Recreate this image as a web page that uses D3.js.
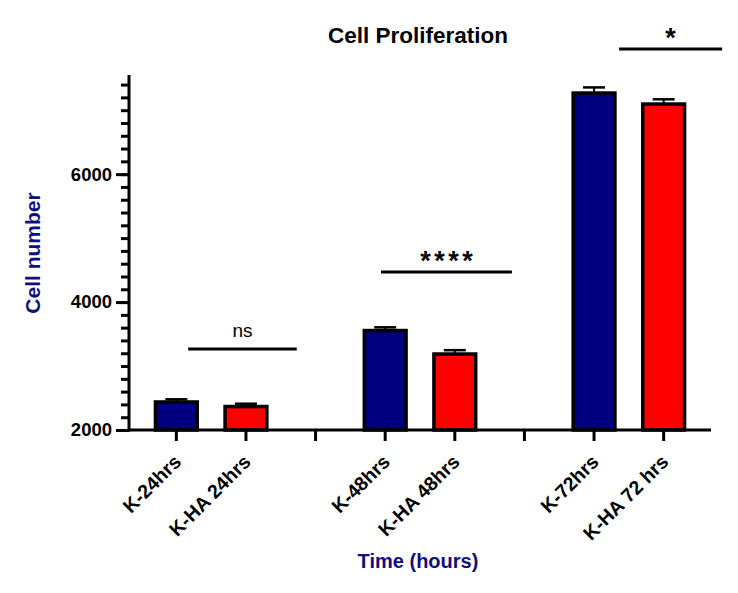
<!DOCTYPE html>
<html><head><meta charset="utf-8">
<script src="https://cdn.jsdelivr.net/npm/d3@7"></script>
<style>body{margin:0;background:#fff;} text{font-family:"Liberation Sans",Arial,sans-serif;}</style>
</head><body>
<svg id="chart" width="738" height="593"></svg>
<script>
const categories = ["K-24hrs","K-HA 24hrs","K-48hrs","K-HA 48hrs","K-72hrs","K-HA 72 hrs"];
const slots = ["K-24hrs","K-HA 24hrs","gap1","K-48hrs","K-HA 48hrs","gap2","K-72hrs","K-HA 72 hrs"];
const means = [2438, 2367, 3555, 3188, 7268, 7096];
const errors = [42, 44, 50, 60, 88, 74];
const colors = ["#000080","#ff0000","#000080","#ff0000","#000080","#ff0000"];
const yTicks = [2000, 4000, 6000];
const annLabels = ["ns","****","*"];
const annStart = [0.17, 2.94, 6.36];
const annEnd = [1.73, 4.82, 7.84];
const annY = [3266, 4470, 7955];

const FONT = "'Liberation Sans',Arial,sans-serif";
const svg = d3.select("#chart");
const x = d3.scaleBand().domain(slots).range([129, 711]).paddingInner(0.4).paddingOuter(0.38);
const xi = d3.scaleLinear().domain([0, 1]).range([x("K-24hrs") + x.bandwidth()/2, x("K-HA 24hrs") + x.bandwidth()/2]);
const y = d3.scaleLinear().domain([2000, 7550]).range([430, 75]);

// bars
const g = svg.append("g");
categories.forEach((c, i) => {
  const x0 = x(c), bw = x.bandwidth(), cx = x0 + bw/2;
  g.append("line").attr("x1", cx).attr("x2", cx).attr("y1", y(means[i])).attr("y2", y(means[i] + errors[i]))
    .attr("stroke", "#000").attr("stroke-width", 2);
  g.append("line").attr("x1", cx - 11).attr("x2", cx + 11).attr("y1", y(means[i] + errors[i])).attr("y2", y(means[i] + errors[i]))
    .attr("stroke", "#000").attr("stroke-width", 2.5);
  g.append("rect").attr("x", x0).attr("width", bw).attr("y", y(means[i])).attr("height", y(2000) - y(means[i]))
    .attr("fill", colors[i]).attr("stroke", "#000").attr("stroke-width", 3.5);
});

// y axis
const yMinor = d3.range(2000, 7500, 200);
const yAxisMinor = d3.axisLeft(y).tickValues(yMinor).tickSize(8).tickFormat("");
const yAxis = d3.axisLeft(y).tickValues(yTicks).tickSize(13).tickPadding(4).tickFormat(d3.format("d"));
const ga = svg.append("g").attr("transform", "translate(129,0)");
ga.call(yAxisMinor);
ga.selectAll("path").remove();
ga.selectAll("line").attr("stroke", "#000").attr("stroke-width", 3);
const gb = svg.append("g").attr("transform", "translate(129,0)").call(yAxis);
gb.select("path").remove();
gb.selectAll("line").attr("stroke", "#000").attr("stroke-width", 3);
gb.selectAll("text").attr("font-size", 18.5).attr("font-weight", "bold").attr("fill", "#000")
  .attr("font-family", FONT);
svg.append("line").attr("x1", 129).attr("x2", 129).attr("y1", y(7550)).attr("y2", 431.5).attr("stroke", "#000").attr("stroke-width", 3);

// x axis
const xAxis = d3.axisBottom(x).tickSize(11).tickFormat(d => d.startsWith("gap") ? "" : d);
const gx = svg.append("g").attr("transform", "translate(0,430)").call(xAxis);
gx.select("path").remove();
gx.selectAll("line").attr("stroke", "#000").attr("stroke-width", 3);
gx.selectAll("text").attr("font-size", 19.5).attr("font-weight", "bold").attr("fill", "#000")
  .attr("font-family", FONT)
  .attr("text-anchor", "end").attr("dy", null).attr("y", 0)
  .attr("transform", "translate(6,33) rotate(-45)");
svg.append("line").attr("x1", 127.5).attr("x2", 711).attr("y1", 430).attr("y2", 430).attr("stroke", "#000").attr("stroke-width", 3);

// annotations
annLabels.forEach((t, i) => {
  const x1 = xi(annStart[i]), x2 = xi(annEnd[i]), yy = y(annY[i]);
  svg.append("line").attr("x1", x1).attr("x2", x2).attr("y1", yy).attr("y2", yy).attr("stroke", "#000").attr("stroke-width", 3);
  const txt = svg.append("text").attr("x", (x1 + x2)/2).attr("text-anchor", "middle").attr("font-family", FONT).text(t);
  if (t === "ns") txt.attr("y", yy - 12).attr("font-size", 19);
  else txt.attr("y", yy - 2).attr("font-size", 27).attr("font-weight", "bold").attr("letter-spacing", t.length > 1 ? 3.5 : 0)
    .attr("dx", t.length > 1 ? 1.75 : 0);
});

// titles
svg.append("text").attr("x", 418).attr("y", 43).attr("text-anchor", "middle").attr("font-size", 22.5)
  .attr("font-weight", "bold").attr("fill", "#000").attr("font-family", FONT).text("Cell Proliferation");
svg.append("text").attr("x", 418).attr("y", 568).attr("text-anchor", "middle").attr("font-size", 20)
  .attr("font-weight", "bold").attr("fill", "#0f0f80").attr("font-family", FONT).text("Time (hours)");
svg.append("text").attr("transform", "translate(40,253) rotate(-90)").attr("text-anchor", "middle").attr("font-size", 21)
  .attr("font-weight", "bold").attr("fill", "#0f0f80").attr("font-family", FONT).text("Cell number");
</script>
</body></html>
